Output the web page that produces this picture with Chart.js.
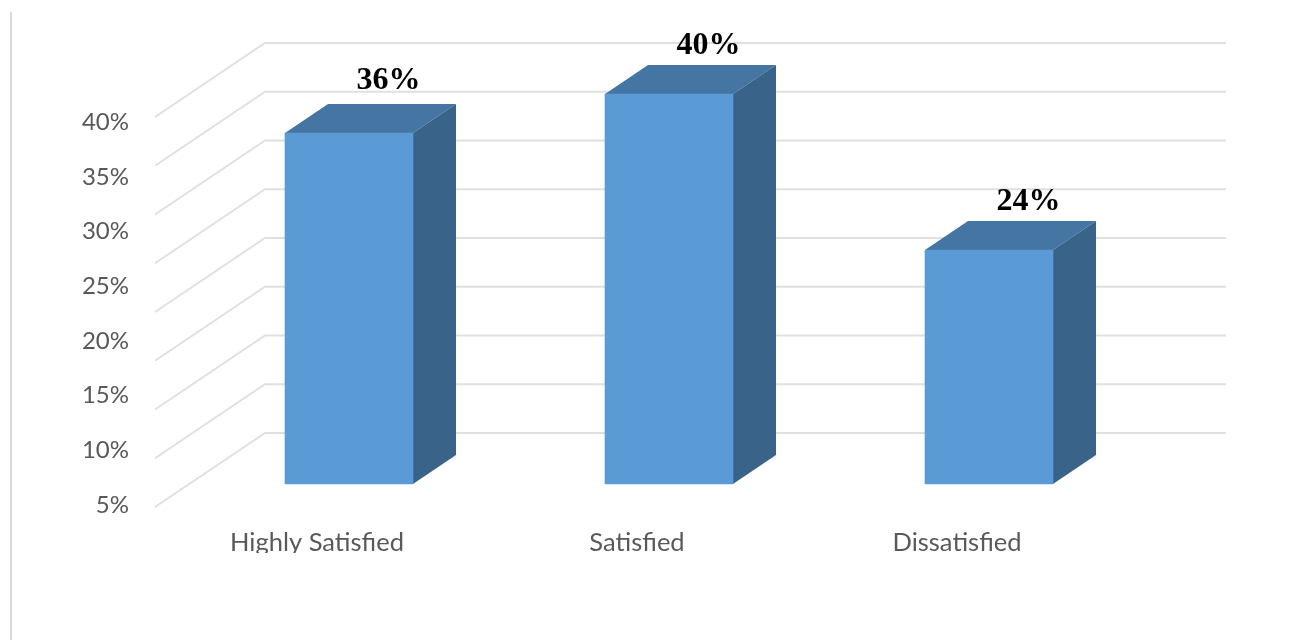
<!DOCTYPE html>
<html>
<head>
<meta charset="utf-8">
<title>Satisfaction levels</title>
<script src="https://cdn.jsdelivr.net/npm/chart.js@4/dist/chart.umd.min.js"></script>
<style>
  html, body { margin: 0; padding: 0; background: #fff; }
  canvas { display: block; }
</style>
</head>
<body>
<canvas id="satisfactionChart" width="1289" height="640"></canvas>
<script>
const categories = ['Highly Satisfied', 'Satisfied', 'Dissatisfied'];
const shares = [36, 40, 24];
const axisTicks = [5, 10, 15, 20, 25, 30, 35, 40];
const wallLines = [0, 5, 10, 15, 20, 25, 30, 35, 40];

// Pseudo-3D geometry, in pixels
const barDepthX = 43;
const barDepthY = -29;
const wallLeft = 265;
const wallRight = 1226;
const wallLift = 51;      // back wall sits this far above the bar front
const floorDx = -110;     // side wall runs down and left to the front edge
const floorDy = 74;
const labelLift = [52, 48.5, 48.5];   // hand-placed value labels

const boxes3d = {
    id: 'boxes3d',
    beforeDatasetsDraw(chart) {
        const ctx = chart.ctx;
        const y = chart.scales.y;

        // Back wall and side wall lines
        ctx.save();
        ctx.strokeStyle = '#e0e0e0';
        ctx.lineWidth = 2;
        wallLines.forEach(v => {
            const py = y.getPixelForValue(v) - wallLift;
            ctx.beginPath();
            ctx.moveTo(wallLeft + floorDx, py + floorDy);
            ctx.lineTo(wallLeft, py);
            ctx.lineTo(wallRight, py);
            ctx.stroke();
        });

        // Top and side faces of each bar
        chart.getDatasetMeta(0).data.forEach(bar => {
            const left = bar.x - bar.width / 2;
            const right = bar.x + bar.width / 2;
            const top = bar.y;
            const base = y.getPixelForValue(0);

            ctx.fillStyle = '#4575a2';
            ctx.beginPath();
            ctx.moveTo(left, top);
            ctx.lineTo(left + barDepthX, top + barDepthY);
            ctx.lineTo(right + barDepthX, top + barDepthY);
            ctx.lineTo(right, top);
            ctx.closePath();
            ctx.fill();

            ctx.fillStyle = '#396388';
            ctx.beginPath();
            ctx.moveTo(right, top);
            ctx.lineTo(right + barDepthX, top + barDepthY);
            ctx.lineTo(right + barDepthX, base + barDepthY);
            ctx.lineTo(right, base);
            ctx.closePath();
            ctx.fill();
        });
        ctx.restore();
    },
    afterDraw(chart) {
        const ctx = chart.ctx;
        ctx.save();

        // Value labels above the bars
        ctx.fillStyle = '#000';
        ctx.font = 'bold 32px "Liberation Serif"';
        ctx.textAlign = 'center';
        ctx.textBaseline = 'middle';
        chart.getDatasetMeta(0).data.forEach((bar, i) => {
            ctx.fillText(shares[i] + '%', bar.x + 39.5, bar.y - labelLift[i]);
        });

        // Category labels are cut off along the bottom of the plot frame
        ctx.fillStyle = '#fff';
        ctx.fillRect(150, 553, 1000, 30);

        // Frame line on the left
        ctx.strokeStyle = '#d9d9d9';
        ctx.lineWidth = 2;
        ctx.beginPath();
        ctx.moveTo(11, 12);
        ctx.lineTo(11, 640);
        ctx.stroke();
        ctx.restore();
    }
};

new Chart(document.getElementById('satisfactionChart'), {
    type: 'bar',
    data: {
        labels: categories,
        datasets: [{
            data: shares,
            yAxisID: 'y',
            backgroundColor: '#5b9bd5',
            barThickness: 128
        }]
    },
    plugins: [boxes3d],
    options: {
        responsive: false,
        animation: false,
        layout: { padding: { top: 20, right: 140, left: 0, bottom: 0 } },
        plugins: {
            legend: { display: false },
            tooltip: { enabled: false }
        },
        scales: {
            x: {
                grid: { display: false, drawTicks: false },
                border: { display: false },
                ticks: {
                    color: '#595959',
                    font: { family: 'Lato', size: 25.5 },
                    padding: 17,
                    labelOffset: -32,
                    maxRotation: 0
                },
                afterFit(axis) { axis.height = 130; }
            },
            // Value scale used by the bars and wall lines
            y: {
                display: false,
                min: -2.667,
                max: 47.59
            },
            // Printed percentage labels run on their own, wider spacing
            yLabels: {
                position: 'left',
                min: 4.54,
                max: 49.37,
                grid: { display: false, drawTicks: false },
                border: { display: false },
                afterBuildTicks(axis) {
                    axis.ticks = axisTicks.map(value => ({ value }));
                },
                ticks: {
                    color: '#595959',
                    font: { family: 'Lato', size: 24 },
                    padding: 60,
                    callback: value => value + '%'
                },
                afterFit(axis) {
                    axis.width = 189;
                    axis.paddingTop = 0;
                    axis.paddingBottom = 0;
                }
            }
        }
    }
});
</script>
</body>
</html>
